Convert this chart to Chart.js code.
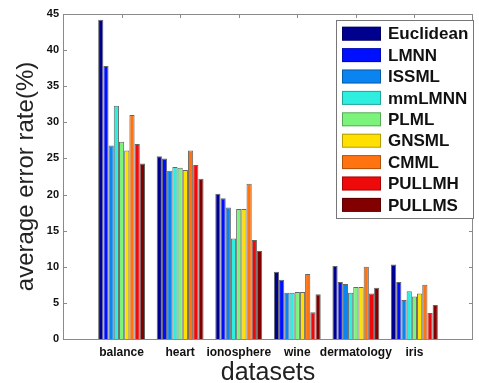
<!DOCTYPE html>
<html>
<head>
<meta charset="utf-8">
<script src="https://cdn.jsdelivr.net/npm/chart.js@4/dist/chart.umd.min.js"></script>
<style>
    html, body { margin: 0; padding: 0; background: #fff; }
    #myChart { display: block; }
</style>
</head>
<body>
<canvas id="myChart" width="479" height="383" style="width:479px;height:383px"></canvas>
<script>
// x軸資料集名稱
const datasetNames = ['balance', 'heart', 'ionosphere', 'wine', 'dermatology', 'iris'];
// 方法名稱 (圖例)
const methods = ['Euclidean', 'LMNN', 'ISSML', 'mmLMNN', 'PLML', 'GNSML', 'CMML', 'PULLMH', 'PULLMS'];

// 各方法的平均錯誤率 (%)
const euclidean = [44.2, 25.3, 20.1, 9.3, 10.1, 10.3];
const lmnn      = [37.8, 25.0, 19.5, 8.2, 7.9, 7.9];
const issml     = [26.8, 23.3, 18.2, 6.4, 7.6, 5.4];
const mmlmnn    = [32.3, 23.8, 13.9, 6.4, 6.4, 6.6];
const plml      = [27.3, 23.7, 18.0, 6.5, 7.2, 5.9];
const gnsml     = [26.1, 23.4, 18.0, 6.5, 7.2, 6.3];
const cmml      = [31.0, 26.1, 21.5, 9.0, 10.0, 7.5];
const pullmh    = [27.0, 24.1, 13.7, 3.7, 6.3, 3.6];
const pullms    = [24.3, 22.2, 12.2, 6.2, 7.1, 4.7];

// y軸刻度
const yMin = 0, yMax = 45, yStep = 5;

const seriesValues = [euclidean, lmnn, issml, mmlmnn, plml, gnsml, cmml, pullmh, pullms];
// jet colormap
const colors = ['#00008F', '#0010FF', '#0A84F0', '#2EEEE0', '#7CF47C', '#FFE000', '#FF7410', '#EE0A0A', '#820000'];

const FONT = "'Liberation Sans', Arial, sans-serif";

// 左右各留一個空白位置，讓 x 範圍成為 0~7
const labels = [''].concat(datasetNames, ['']);

const datasets = seriesValues.map((vals, i) => ({
    label: methods[i],
    data: [null].concat(vals, [null]),
    backgroundColor: colors[i],
    borderColor: 'rgba(0,0,0,0.6)',
    borderWidth: 1,
    categoryPercentage: 0.8,
    barPercentage: 1.0
}));

// 外框與向內刻度
const framePlugin = {
    id: 'frame',
    afterDatasetsDraw(chart) {
        const { ctx, chartArea: a, scales } = chart;
        ctx.save();
        ctx.strokeStyle = '#8a8a8a';
        ctx.lineWidth = 1;
        ctx.beginPath();
        for (let v = yMin; v <= yMax; v += yStep) {
            const y = Math.round(scales.y.getPixelForValue(v)) + 0.5;
            ctx.moveTo(a.left, y); ctx.lineTo(a.left + 4, y);
            ctx.moveTo(a.right, y); ctx.lineTo(a.right - 4, y);
        }
        for (let i = 1; i <= datasetNames.length; i++) {
            const x = Math.round(scales.x.getPixelForValue(i)) + 0.5;
            ctx.moveTo(x, a.top); ctx.lineTo(x, a.top + 4);
        }
        ctx.stroke();
        ctx.strokeRect(Math.round(a.left) + 0.5, Math.round(a.top) + 0.5,
            Math.round(a.right - a.left) - 1, Math.round(a.bottom - a.top));
        ctx.restore();
    }
};

// 圖內圖例
const boxLegend = {
    id: 'boxLegend',
    afterDraw(chart) {
        const ctx = chart.ctx;
        const x0 = 336, y0 = 20, w = 137, h = 198, gap = 21.4;
        ctx.save();
        ctx.fillStyle = '#fff';
        ctx.fillRect(x0, y0, w, h);
        ctx.strokeStyle = '#777';
        ctx.lineWidth = 1;
        ctx.strokeRect(x0 + 0.5, y0 + 0.5, w, h);
        ctx.font = 'bold 17px ' + FONT;
        ctx.textBaseline = 'middle';
        chart.data.datasets.forEach((ds, i) => {
            const cy = y0 + 13.7 + gap * i;
            ctx.fillStyle = ds.backgroundColor;
            ctx.fillRect(342, cy - 7, 39, 14);
            ctx.strokeStyle = 'rgba(0,0,0,0.3)';
            ctx.strokeRect(342.5, cy - 6.5, 38, 13);
            ctx.fillStyle = '#111';
            ctx.fillText(ds.label, 388, cy + 1);
        });
        ctx.restore();
    }
};

const ctx = document.getElementById('myChart');
const chart = new Chart(ctx, {
    type: 'bar',
    data: { labels: labels, datasets: datasets },
    options: {
        responsive: false,
        animation: false,
        layout: { padding: { top: 14, right: 2, left: 0, bottom: 0 } },
        plugins: {
            legend: { display: false },
            tooltip: { enabled: false }
        },
        scales: {
            x: {
                offset: false,
                grid: { display: false, drawTicks: false },
                border: { display: false },
                ticks: {
                    autoSkip: false,
                    maxRotation: 0,
                    padding: 6,
                    color: '#111',
                    font: { family: FONT, size: 12, weight: 'bold' }
                },
                title: {
                    display: true,
                    text: 'datasets',
                    color: '#222',
                    font: { family: FONT, size: 25, lineHeight: 1 },
                    padding: { top: 0, bottom: -3 }
                },
                afterFit(scale) { scale.height = 44; }
            },
            y: {
                min: yMin,
                max: yMax,
                grid: { display: false, drawTicks: false },
                border: { display: false },
                ticks: {
                    stepSize: yStep,
                    padding: 4,
                    color: '#111',
                    font: { family: FONT, size: 11, weight: 'bold' }
                },
                title: {
                    display: true,
                    text: 'average error rate(%)',
                    color: '#222',
                    font: { family: FONT, size: 24, lineHeight: 1 },
                    padding: { top: 14, bottom: 0 }
                },
                afterFit(scale) { scale.width = 63; }
            }
        }
    },
    plugins: [framePlugin, boxLegend]
});
</script>
</body>
</html>
